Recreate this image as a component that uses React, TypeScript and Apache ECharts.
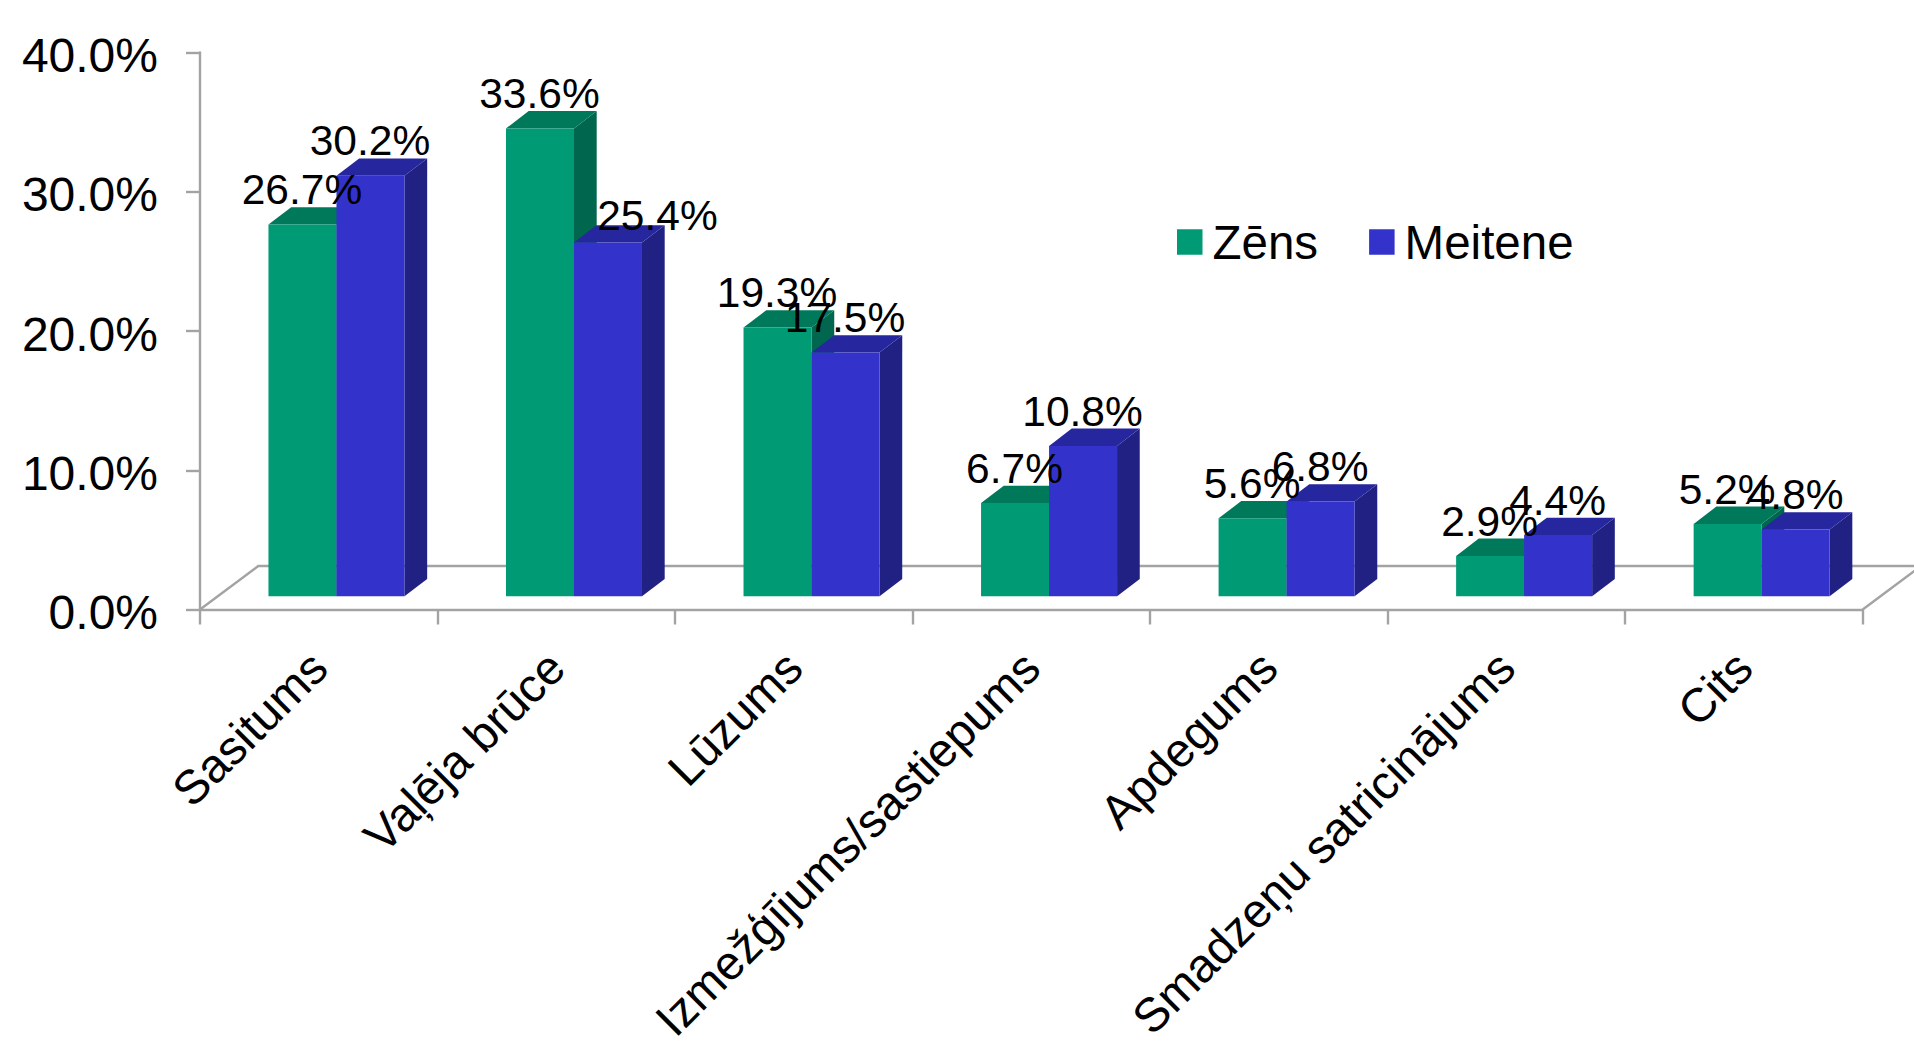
import React, { useEffect, useRef } from "react";
import * as echarts from "echarts";

const categories = ["Sasitums", "Vaļēja brūce", "Lūzums", "Izmežģījums/sastiepums", "Apdegums", "Smadzeņu satricinājums", "Cits"];
const zens = [26.7, 33.6, 19.3, 6.7, 5.6, 2.9, 5.2];
const meitene = [30.2, 25.4, 17.5, 10.8, 6.8, 4.4, 4.8];
const yTicks = [0, 10, 20, 30, 40];
const FONT = "'Liberation Sans', Arial, sans-serif";
const GREEN = { front: "#009B75", top: "#00795B", side: "#00664D" };
const BLUE = { front: "#3333CC", top: "#26269E", side: "#212184" };
const LINE = "#A3A3A3";
const BAR_W = 68;
const DX = 22.7;
const DY = 17.3;
const BASE_UP = 13.2;
const CLUSTER_SHIFT = 17.7;
const FLOOR_DX = 58.3;
const FLOOR_DY = 43.5;

function barRender(colors: any, side: number) {
  return (params: any, api: any) => {
    const idx = api.value(0);
    const p = api.coord([idx, api.value(1)]);
    const base = api.coord([idx, 0]);
    const x0 = p[0] + CLUSTER_SHIFT + (side < 0 ? -BAR_W : 0);
    const x1 = x0 + BAR_W;
    const yTop = p[1] - BASE_UP;
    const yBot = base[1] - BASE_UP;
    return {
      type: "group",
      children: [
        { type: "polygon", shape: { points: [[x1, yTop], [x1 + DX, yTop - DY], [x1 + DX, yBot - DY], [x1, yBot]] }, style: { fill: colors.side } },
        { type: "polygon", shape: { points: [[x0, yTop], [x0 + DX, yTop - DY], [x1 + DX, yTop - DY], [x1, yTop]] }, style: { fill: colors.top } },
        { type: "rect", shape: { x: x0, y: yTop, width: BAR_W, height: yBot - yTop }, style: { fill: colors.front } },
      ],
    };
  };
}

// The one label the reference displaces from its bar ("25.4%").
function labelShift(side: number, idx: number) {
  return side > 0 && idx === 1 ? [50, 8] : [0, 0];
}

function labelRender(side: number) {
  return (params: any, api: any) => {
    const idx = api.value(0);
    const v = api.value(1);
    const p = api.coord([idx, v]);
    const [sx, sy] = labelShift(side, idx);
    const cx = p[0] + CLUSTER_SHIFT + (side * BAR_W) / 2 - 0.5 + sx;
    const baseline = p[1] - BASE_UP - DY - 2.5 + sy;
    return {
      type: "text",
      style: { text: v.toFixed(1) + "%", x: cx, y: baseline - 15, align: "center", verticalAlign: "middle", font: `42.5px ${FONT}`, fill: "#000" },
    };
  };
}

function floorRender(params: any, api: any) {
  const a = api.coord([0, 0]);
  const size = api.size([1, 0]);
  const left = a[0] - size[0] / 2;
  const right = left + size[0] * categories.length;
  const y = a[1];
  return {
    type: "polyline",
    shape: { points: [[left, y], [left + FLOOR_DX, y - FLOOR_DY], [right + FLOOR_DX, y - FLOOR_DY], [right, y]] },
    style: { stroke: LINE, lineWidth: 2.4, fill: "none" },
  };
}

export default function App() {
  const ref = useRef<HTMLDivElement>(null);
  useEffect(() => {
    const chart = echarts.init(ref.current!, null, { renderer: "svg" });
    chart.setOption({
      animation: false,
      backgroundColor: "#fff",
      grid: { left: 200, top: 52.5, width: 1662.7, height: 557, outerBoundsMode: "none" },
      legend: {
        data: [
          { name: "Zēns", itemStyle: { color: GREEN.front } },
          { name: "Meitene", itemStyle: { color: BLUE.front } },
        ],
        left: 1177,
        top: 218,
        padding: 0,
        itemWidth: 25.5,
        itemHeight: 25.5,
        itemGap: 51,
        icon: "rect",
        textStyle: { fontFamily: FONT, fontSize: 47.5, color: "#000", padding: [0, 0, 0, 5] },
      },
      xAxis: {
        type: "category",
        data: categories,
        axisLine: { lineStyle: { color: LINE, width: 2.4 } },
        axisTick: { show: true, alignWithLabel: false, length: 15, lineStyle: { color: LINE, width: 2.4 } },
        axisLabel: { rotate: 45, interval: 0, margin: 50, fontFamily: FONT, fontSize: 47.5, color: "#000" },
      },
      yAxis: {
        type: "value",
        min: yTicks[0],
        max: yTicks[yTicks.length - 1],
        interval: 10,
        splitLine: { show: false },
        axisLine: { show: true, lineStyle: { color: LINE, width: 2.4 } },
        axisTick: { show: true, length: 14, lineStyle: { color: LINE, width: 2.4 } },
        axisLabel: { margin: 42, fontFamily: FONT, fontSize: 48, color: "#000", verticalAlign: "top", padding: [-21, 0, 0, 0], formatter: (v: number) => v.toFixed(1) + "%" },
      },
      series: [
        { type: "custom", name: "floor", z: 1, silent: true, data: [[0, 0]], renderItem: floorRender, encode: { x: 0, y: 1 } },
        { type: "custom", name: "Zēns", z: 2, itemStyle: { color: GREEN.front }, data: zens.map((v, i) => [i, v]), renderItem: barRender(GREEN, -1), encode: { x: 0, y: 1 } },
        { type: "custom", name: "Meitene", z: 3, itemStyle: { color: BLUE.front }, data: meitene.map((v, i) => [i, v]), renderItem: barRender(BLUE, 1), encode: { x: 0, y: 1 } },
        { type: "custom", name: "Zēns labels", z: 4, silent: true, data: zens.map((v, i) => [i, v]), renderItem: labelRender(-1), encode: { x: 0, y: 1 } },
        { type: "custom", name: "Meitene labels", z: 5, silent: true, data: meitene.map((v, i) => [i, v]), renderItem: labelRender(1), encode: { x: 0, y: 1 } },
      ],
    });
    return () => chart.dispose();
  }, []);
  return <div ref={ref} style={{ position: "absolute", left: 0, top: 0, width: 1914, height: 1042 }} />;
}
